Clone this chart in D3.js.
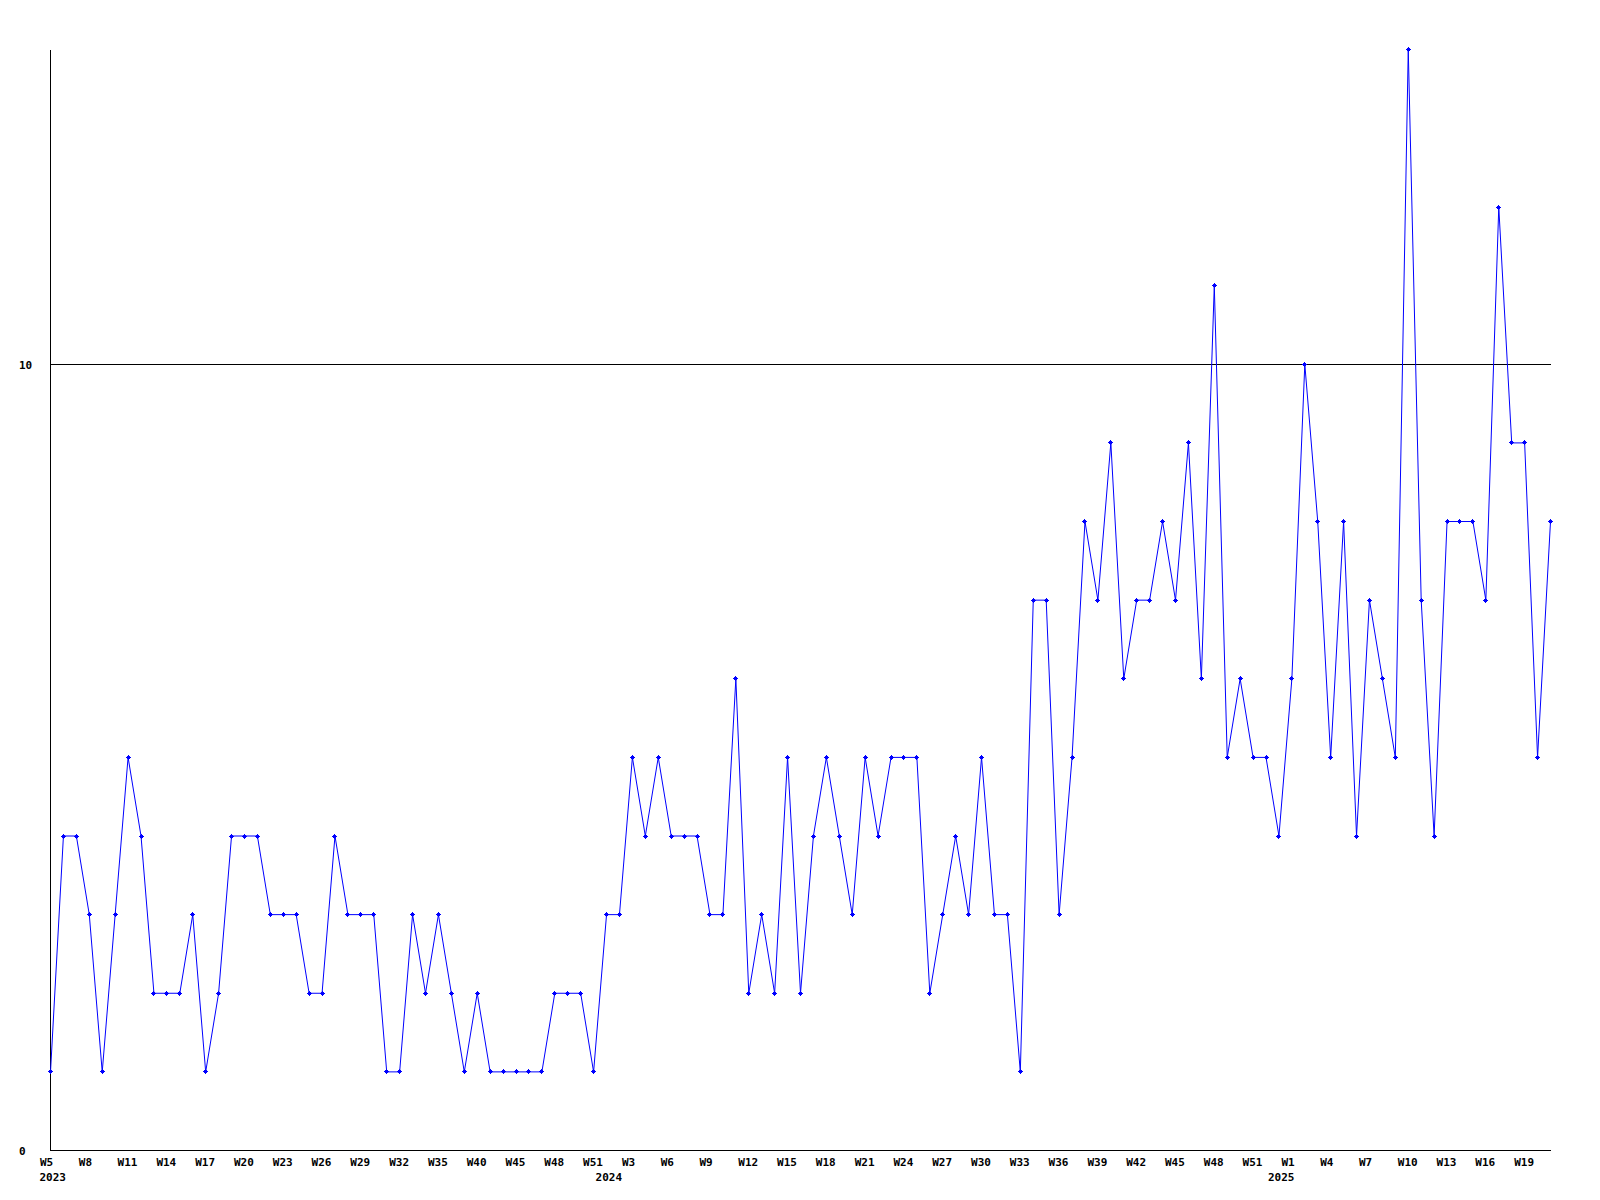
<!DOCTYPE html>
<html>
<head>
<meta charset="utf-8">
<script src="https://cdn.jsdelivr.net/npm/d3@7"></script>
<style>
  html, body { margin: 0; padding: 0; background: #fff; }
  svg { display: block; }
  text { font-family: "DejaVu Sans Mono", "Liberation Mono", monospace; font-weight: bold; font-size: 11px; fill: #000; }
</style>
</head>
<body>
<svg id="chart" width="1600" height="1200"></svg>
<script>
// ---- data ----
const weeks = [
  "W5","W6","W7","W8","W9","W10","W11","W12","W13","W14","W15","W16","W17","W18","W19","W20",
  "W21","W22","W23","W24","W25","W26","W27","W28","W29","W30","W31","W32","W33","W34","W35",
  "W37","W38","W40","W42","W43","W45","W46","W47","W48","W49","W50","W51",
  "W1","W2","W3","W4","W5","W6","W7","W8","W9","W10","W11","W12","W13","W14","W15","W16","W17",
  "W18","W19","W20","W21","W22","W23","W24","W25","W26","W27","W28","W29","W30","W31","W32","W33",
  "W34","W35","W36","W37","W38","W39","W40","W41","W42","W43","W44","W45","W46","W47","W48","W49",
  "W50","W51","W52",
  "W0","W1","W2","W3","W4","W5","W6","W7","W8","W9","W10","W11","W12","W13","W14","W15","W16",
  "W17","W18","W19","W20","W21"
];
const values = [
  1,4,4,3,1,3,5,4,2,2,2,3,1,2,4,4,
  4,3,3,3,2,2,4,3,3,3,1,1,3,2,3,
  2,1,2,1,1,1,1,1,2,2,2,1,
  3,3,5,4,5,4,4,4,3,3,6,2,3,2,5,2,4,
  5,4,3,5,4,5,5,5,2,3,4,3,5,3,3,1,
  7,7,3,5,8,7,9,6,7,7,8,7,9,6,11,5,
  6,5,5,
  4,6,10,8,5,8,4,7,6,5,14,7,4,8,8,8,7,
  12,9,9,5,8
];
const yearLabels = ["2023", "2024", "2025"];
const yearStartIndex = [0, 43, 95];
const yTicks = [0, 10];
const yMax = 14;

(function () {
// ---- layout ----
const svg = d3.select("#chart");
const mLeft = 50, mRight = 1550, mTop = 50, mBottom = 1150;
const idx = d3.range(values.length);

const x = d3.scalePoint().domain(idx).range([mLeft + 0.5, mRight + 0.5]);
const y = d3.scaleLinear().domain([0, yMax]).range([mBottom + 0.5, mTop - 0.2]);

// gridline at 10
svg.append("g")
  .selectAll("line")
  .data(yTicks.filter(d => d > 0))
  .join("line")
  .attr("x1", mLeft).attr("x2", mRight + 1)
  .attr("y1", d => Math.round(y(d)) + 0.5).attr("y2", d => Math.round(y(d)) + 0.5)
  .attr("stroke", "#000").attr("stroke-width", 1).attr("shape-rendering", "crispEdges");

// axes lines
svg.append("line").attr("x1", mLeft + 0.5).attr("x2", mLeft + 0.5).attr("y1", mTop).attr("y2", mBottom + 1)
  .attr("stroke", "#000").attr("shape-rendering", "crispEdges");
svg.append("line").attr("x1", mLeft).attr("x2", mRight + 1).attr("y1", mBottom + 0.5).attr("y2", mBottom + 0.5)
  .attr("stroke", "#000").attr("shape-rendering", "crispEdges");

// x axis (week labels)
const xAxis = d3.axisBottom(x)
  .tickValues(idx.filter(i => i % 3 === 0))
  .tickFormat(i => weeks[i])
  .tickSize(0);
const gx = svg.append("g").attr("transform", `translate(0,${mBottom})`).call(xAxis);
gx.select(".domain").remove();
gx.attr("font-family", null).attr("font-size", null);
gx.selectAll("text")
  .attr("text-anchor", "start")
  .attr("x", -11)
  .attr("y", 16)
  .attr("dy", null);

// year labels
svg.append("g")
  .selectAll("text")
  .data(yearLabels)
  .join("text")
  .attr("x", (d, k) => x(yearStartIndex[k]) - 11)
  .attr("y", mBottom + 31)
  .text(d => d);

// y axis labels
const yAxis = d3.axisLeft(y).tickValues(yTicks).tickFormat(d3.format("d")).tickSize(0);
const gy = svg.append("g").attr("transform", `translate(${mLeft},0)`).call(yAxis);
gy.select(".domain").remove();
gy.attr("font-family", null).attr("font-size", null);
gy.selectAll("text")
  .attr("text-anchor", "start")
  .attr("x", -31)
  .attr("dy", "4px");

// line
const line = d3.line().x(i => x(i)).y(i => y(values[i]));
svg.append("path")
  .datum(idx)
  .attr("d", line)
  .attr("fill", "none")
  .attr("stroke", "#0000ff")
  .attr("stroke-width", 1);

// markers (small cross)
svg.append("g")
  .selectAll("path")
  .data(idx)
  .join("path")
  .attr("transform", i => `translate(${Math.round(x(i) - 0.5) + 0.5},${Math.round(y(values[i]) - 0.5) + 0.5})`)
  .attr("d", "M-1.5,-1.5h3v3h-3z M-0.5,-2.5h1v5h-1z M-2.5,-0.5h5v1h-5z")
  .attr("fill", "#0000ff")
  .attr("shape-rendering", "crispEdges");
})();
</script>
</body>
</html>
